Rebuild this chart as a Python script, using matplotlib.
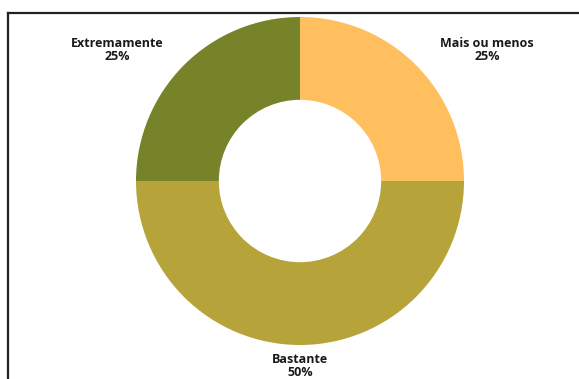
import matplotlib
matplotlib.use("Agg")
import matplotlib.pyplot as plt
from matplotlib.lines import Line2D

categories = ["Mais ou menos", "Bastante", "Extremamente"]
shares = [25, 50, 25]
colors = ["#FFBF5F", "#B6A43A", "#778328"]

W, H = 579, 379
cx, cy, R = 300, 181, 164

fig = plt.figure(figsize=(W / 100, H / 100), dpi=100)
ax = fig.add_axes([0, 0, 1, 1])

ax.pie(shares, colors=colors, startangle=90, counterclock=False,
       radius=1.0, wedgeprops=dict(width=0.505, linewidth=0))

ax.set_xlim(-cx / R, (W - cx) / R)
ax.set_ylim(-(H - cy) / R, cy / R)
ax.set_aspect("auto")
ax.axis("off")

# label positions in pixel space, converted to data units
label_px = {"Mais ou menos": (487, 50), "Bastante": (300, 366), "Extremamente": (117, 50)}
for name, val in zip(categories, shares):
    px, py = label_px[name]
    ax.text((px - cx) / R, (cy - py) / R, f"{name}\n{val}%", ha="center", va="center",
            fontsize=9, fontweight="bold", family="Open Sans", color="#1a1a1a",
            linespacing=1.05)

# chart frame (top and left edges visible)
fig.add_artist(Line2D([8 / W, 8 / W], [0, 1 - 13 / H], transform=fig.transFigure,
                      color="#222222", lw=1.6))
fig.add_artist(Line2D([8 / W, 1], [1 - 13 / H, 1 - 13 / H], transform=fig.transFigure,
                      color="#222222", lw=1.6))

fig.savefig("out.png", dpi=100)
